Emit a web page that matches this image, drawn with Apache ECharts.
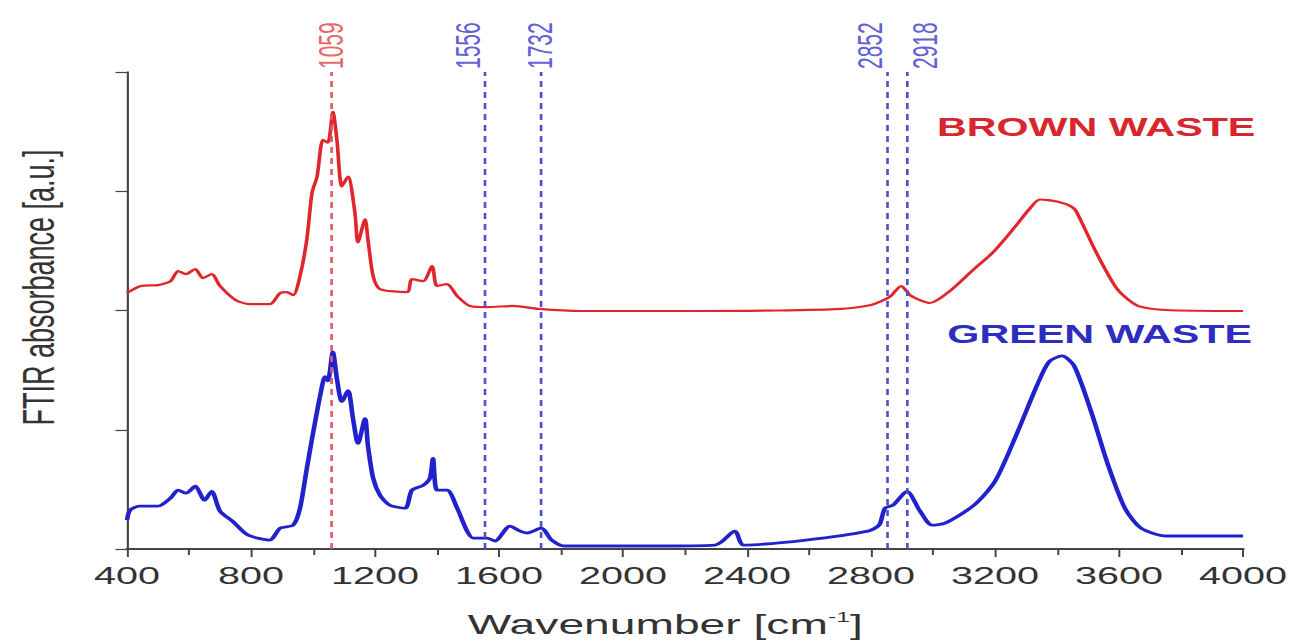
<!DOCTYPE html>
<html>
<head>
<meta charset="utf-8">
<script src="https://cdn.jsdelivr.net/npm/echarts@6/dist/echarts.min.js"></script>
<style>
  html, body { margin: 0; padding: 0; background: #ffffff; overflow: hidden; }
  #wrap { width: 785px; height: 643px; transform: scaleX(1.64968); transform-origin: 0 0; }
</style>
</head>
<body>
<div id="wrap"></div>
<script>
// ---- data ----
const brownWavenumber = [400,445,500,540,565,590,620,645,673,700,750,795,860,894,915,936,958,980,997,1013,1032,1048,1064,1077,1093,1113,1135,1145,1168,1177,1194,1216,1303,1319,1355,1384,1400,1432,1465,1506,1561,1645,1729,1864,2200,2500,2700,2800,2860,2897,2930,2990,3058,3125,3194,3258,3310,3345,3400,3445,3462,3526,3594,3661,3750,4000];
const brownAbsorbance = [2.146,2.205,2.213,2.246,2.330,2.305,2.347,2.271,2.305,2.205,2.088,2.054,2.054,2.146,2.154,2.129,2.288,2.597,2.990,3.123,3.432,3.407,3.666,3.432,3.040,3.123,2.823,2.572,2.764,2.597,2.288,2.180,2.154,2.263,2.246,2.372,2.205,2.221,2.121,2.038,2.029,2.038,2.013,1.996,1.996,2.000,2.013,2.046,2.113,2.205,2.121,2.063,2.171,2.330,2.489,2.681,2.848,2.931,2.914,2.873,2.831,2.489,2.180,2.038,2.004,1.996];

const greenWavenumber = [400,410,440,500,540,565,590,620,650,673,700,740,790,860,894,936,958,980,997,1023,1039,1048,1064,1077,1093,1113,1129,1145,1168,1177,1194,1216,1248,1297,1319,1355,1377,1387,1400,1432,1465,1497,1516,1561,1587,1635,1668,1690,1736,1770,1810,2090,2297,2361,2390,2590,2790,2826,2845,2871,2916,2958,2997,3039,3132,3200,3268,3335,3374,3416,3455,3510,3565,3619,3671,3752,4000];
const greenAbsorbance = [0.242,0.326,0.359,0.359,0.426,0.493,0.468,0.526,0.409,0.484,0.317,0.234,0.117,0.075,0.175,0.200,0.342,0.676,0.927,1.286,1.445,1.411,1.653,1.428,1.236,1.328,1.094,0.885,1.094,0.868,0.593,0.451,0.367,0.342,0.493,0.534,0.593,0.760,0.493,0.493,0.342,0.150,0.092,0.092,0.067,0.192,0.150,0.134,0.175,0.075,0.025,0.025,0.033,0.150,0.033,0.075,0.150,0.200,0.342,0.367,0.484,0.317,0.200,0.217,0.367,0.568,0.952,1.370,1.570,1.620,1.537,1.152,0.701,0.342,0.175,0.109,0.109];

const peakPositions = [1059, 1556, 1732, 2852, 2918];
const seriesNames = ['BROWN WASTE', 'GREEN WASTE'];

// ---- styles ----
const RED = '#e0262c';
const BLUE = '#2222cc';
const peakStyle = {
  1059: { color: '#e05a66', text: '#e0403f', side: 'middle' },
  1556: { color: '#5050cc', text: '#3535c8', side: 'bottom' },
  1732: { color: '#5050cc', text: '#3535c8', side: 'middle' },
  2852: { color: '#5050cc', text: '#3535c8', side: 'bottom' },
  2918: { color: '#5050cc', text: '#3535c8', side: 'top' }
};
const FONT = 'Liberation Sans, Arial, sans-serif';

function zip(xs, ys) { return xs.map((x, i) => [x, ys[i]]); }

const chart = echarts.init(document.getElementById('wrap'), null, { renderer: 'svg' });
chart.setOption({
  animation: false,
  backgroundColor: '#ffffff',
  title: [
    { text: seriesNames[0], right: 24, top: 115, padding: 0,
      textStyle: { color: '#d8262e', fontSize: 25, fontWeight: 'bold', fontFamily: FONT } },
    { text: seriesNames[1], right: 26, top: 322, padding: 0,
      textStyle: { color: '#2d2dc0', fontSize: 25, fontWeight: 'bold', fontFamily: FONT } }
  ],
  grid: { left: 77, right: 31.5, top: 72, bottom: 92, containLabel: false },
  xAxis: {
    type: 'value', min: 400, max: 4000, interval: 400,
    name: '{a|Wavenumber [cm}{s|-1}{a|]}',
    nameLocation: 'middle', nameGap: 60,
    nameTextStyle: {
      padding: [0, 24, 0, 0],
      rich: {
        a: { fontSize: 28, color: '#333', fontFamily: FONT, lineHeight: 30 },
        s: { fontSize: 15, color: '#333', fontFamily: FONT, verticalAlign: 'top', lineHeight: 16 }
      }
    },
    axisLine: { show: true, onZero: false, lineStyle: { color: '#444', width: 2 } },
    axisTick: { show: true, length: 8, lineStyle: { color: '#444', width: 1.2 } },
    minorTick: { show: true, splitNumber: 2, length: 6, lineStyle: { color: '#444', width: 1.2 } },
    axisLabel: { fontSize: 24, color: '#333', fontFamily: FONT, margin: 15, formatter: v => String(v) },
    splitLine: { show: false }
  },
  yAxis: {
    type: 'value', min: 0, max: 4, interval: 1,
    name: 'FTIR absorbance [a.u.]',
    nameLocation: 'middle', nameGap: 40,
    nameTextStyle: { fontSize: 27, color: '#333', fontFamily: FONT, padding: [0, 0, 0, 46] },
    axisLine: { show: true, onZero: false, lineStyle: { color: '#444', width: 1.3 } },
    axisTick: { show: true, length: 7, lineStyle: { color: '#444', width: 1.2 } },
    axisLabel: { show: false },
    splitLine: { show: false }
  },
  series: [
    {
      name: 'peaks', type: 'scatter', symbolSize: 0, silent: true, z: 1,
      data: peakPositions.map(x => ({
        value: [x, 4],
        label: { color: peakStyle[x].text, verticalAlign: peakStyle[x].side }
      })),
      label: {
        show: true, position: 'top', distance: 3, rotate: 90, align: 'left',
        fontSize: 21, fontFamily: FONT,
        formatter: p => String(p.value[0])
      },
      markLine: {
        silent: true, symbol: 'none',
        label: { show: false },
        data: peakPositions.map(x => ({
          xAxis: x,
          lineStyle: { color: peakStyle[x].color, type: [6, 5], width: 1.6 }
        }))
      }
    },
    {
      name: seriesNames[0], type: 'line', showSymbol: false, smooth: 0.25, z: 3,
      lineStyle: { color: RED, width: 2.2 },
      data: zip(brownWavenumber, brownAbsorbance)
    },
    {
      name: seriesNames[1], type: 'line', showSymbol: false, smooth: 0.25, z: 3,
      lineStyle: { color: BLUE, width: 2.8 },
      data: zip(greenWavenumber, greenAbsorbance)
    }
  ]
});
</script>
</body>
</html>
